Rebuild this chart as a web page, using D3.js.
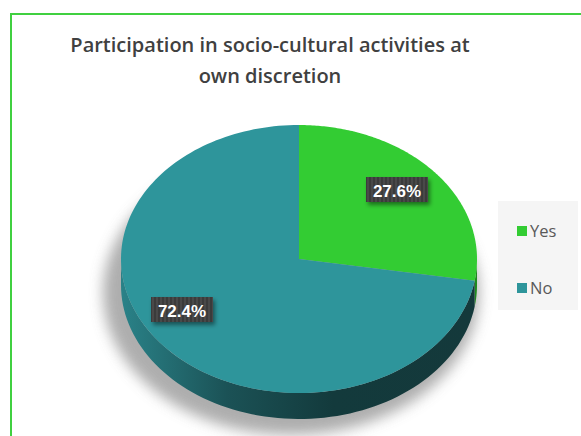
<!DOCTYPE html>
<html>
<head>
<meta charset="utf-8">
<script src="https://cdn.jsdelivr.net/npm/d3@7"></script>
<style>
  html, body { margin: 0; padding: 0; background: #fff; }
  svg { display: block; }
</style>
</head>
<body>
<svg id="chart" width="581" height="436"></svg>
<script>
// Survey answers and their shares (%)
const categories = ["Yes", "No"];
const shares = [27.6, 72.4];
const sliceColors = ["#33cc33", "#2e959b"];
const titleLines = ["Participation in socio-cultural activities at", "own discretion"];

const svg = d3.select("#chart");
const defs = svg.append("defs");

// Frame
svg.append("rect")
  .attr("x", 11).attr("y", 14).attr("width", 600).attr("height", 450)
  .attr("fill", "none").attr("stroke", "#40d040").attr("stroke-width", 2);

// Title
svg.append("g").selectAll("text").data(titleLines).join("text")
  .attr("x", 270).attr("y", (d, i) => 52 + i * 31)
  .attr("text-anchor", "middle")
  .attr("font-family", "'Open Sans', sans-serif")
  .attr("font-weight", 600).attr("font-size", 20)
  .attr("fill", "#404040")
  .text(d => d);

// Pie geometry (tilted ellipse)
const cx = 299, cy = 259, rx = 178, ry = 134, depth = 26;
const proj = a => [cx + rx * Math.sin(a), cy - ry * Math.cos(a)];

const pie = d3.pie().sort(null).startAngle(0).endAngle(2 * Math.PI);
const arcs = pie(shares);

// soft drop shadow
const blur = defs.append("filter").attr("id", "shadowBlur")
  .attr("x", "-30%").attr("y", "-30%").attr("width", "160%").attr("height", "160%");
blur.append("feGaussianBlur").attr("stdDeviation", 7);
svg.append("ellipse")
  .attr("cx", cx - 8).attr("cy", cy + depth + 8).attr("rx", rx + 10).attr("ry", ry + 8)
  .attr("fill", "#9a9a9a").attr("opacity", 0.8)
  .attr("filter", "url(#shadowBlur)");

// side wall gradient
const sideGrad = defs.append("linearGradient").attr("id", "sideGrad")
  .attr("x1", 0).attr("x2", 1).attr("y1", 0).attr("y2", 0);
sideGrad.append("stop").attr("offset", "0%").attr("stop-color", "#2a8288");
sideGrad.append("stop").attr("offset", "30%").attr("stop-color", "#1b5256");
sideGrad.append("stop").attr("offset", "60%").attr("stop-color", "#133a3c");
sideGrad.append("stop").attr("offset", "100%").attr("stop-color", "#14393b");

function edgePoints(a0, a1, n) {
  const pts = [];
  for (let i = 0; i <= n; i++) pts.push(proj(a0 + (a1 - a0) * i / n));
  return pts;
}

// Side walls: visible front half (angles between PI/2 and 3PI/2)
arcs.forEach((d, i) => {
  const a0 = Math.max(d.startAngle, Math.PI / 2);
  const a1 = Math.min(d.endAngle, 3 * Math.PI / 2);
  if (a1 <= a0) return;
  const top = edgePoints(a0, a1, 80);
  const bottom = top.map(p => [p[0], p[1] + depth]).reverse();
  svg.append("path")
    .attr("d", d3.line()(top.concat(bottom)) + "Z")
    .attr("fill", i === 1 ? "url(#sideGrad)" : "#1f8a1f");
});

// Top faces
arcs.forEach((d, i) => {
  const pts = [[cx, cy]].concat(edgePoints(d.startAngle, d.endAngle, 160));
  svg.append("path")
    .attr("d", d3.line()(pts) + "Z")
    .attr("fill", sliceColors[i]);
});

// Data labels: striped dark boxes
const stripes = defs.append("pattern").attr("id", "stripes")
  .attr("patternUnits", "userSpaceOnUse").attr("width", 4).attr("height", 4);
stripes.append("rect").attr("width", 4).attr("height", 4).attr("fill", "#4a4a4a");
stripes.append("rect").attr("width", 2).attr("height", 4).attr("fill", "#3a3a3a");

const boxShadow = defs.append("filter").attr("id", "boxShadow")
  .attr("x", "-30%").attr("y", "-30%").attr("width", "160%").attr("height", "180%");
boxShadow.append("feDropShadow").attr("dx", 2).attr("dy", 3)
  .attr("stdDeviation", 2).attr("flood-color", "#000").attr("flood-opacity", 0.45);

const labelPos = [[397, 190], [182, 310]];
arcs.forEach((d, i) => {
  const g = svg.append("g").attr("transform", `translate(${labelPos[i][0]},${labelPos[i][1]})`);
  g.append("rect").attr("x", -31).attr("y", -13).attr("width", 62).attr("height", 25)
    .attr("fill", "url(#stripes)").attr("filter", "url(#boxShadow)");
  g.append("text")
    .attr("text-anchor", "middle").attr("y", 6.5)
    .attr("font-family", "'Liberation Sans', Arial, sans-serif")
    .attr("font-weight", "bold").attr("font-size", 17)
    .attr("fill", "#ffffff")
    .text(d3.format(".1f")(shares[i]) + "%");
});

// Legend
const legend = svg.append("g");
legend.append("rect").attr("x", 498).attr("y", 201).attr("width", 80).attr("height", 109)
  .attr("fill", "#f5f5f5");
const items = legend.selectAll("g.item").data(categories).join("g")
  .attr("transform", (d, i) => `translate(517,${226 + i * 57})`);
items.append("rect").attr("width", 10).attr("height", 10)
  .attr("fill", (d, i) => sliceColors[i]);
items.append("text").attr("x", 13).attr("y", 11)
  .attr("font-family", "'Open Sans', sans-serif").attr("font-size", 16.5)
  .attr("fill", "#595959").text(d => d);
</script>
</body>
</html>
